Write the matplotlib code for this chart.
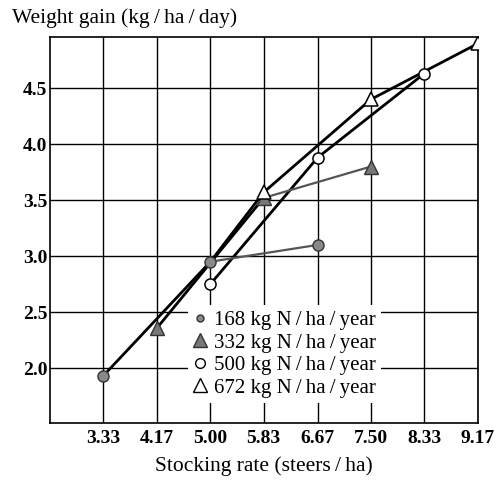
import matplotlib
matplotlib.use("Agg")
import matplotlib.pyplot as plt
from matplotlib.lines import Line2D

# Data
x_ticks = [3.33, 4.17, 5.00, 5.83, 6.67, 7.50, 8.33, 9.17]
x_ticklabels = ["3.33", "4.17", "5.00", "5.83", "6.67", "7.50", "8.33", "9.17"]
y_ticks = [2.0, 2.5, 3.0, 3.5, 4.0, 4.5]
y_ticklabels = ["2.0", "2.5", "3.0", "3.5", "4.0", "4.5"]

n168_x = [3.33, 5.00, 6.67]
n168_y = [1.93, 2.95, 3.10]
n332_x = [4.17, 5.83, 7.50]
n332_y = [2.36, 3.52, 3.80]
n500_x = [5.00, 6.67, 8.33]
n500_y = [2.75, 3.88, 4.63]
n672_x = [5.83, 7.50, 9.17]
n672_y = [3.57, 4.40, 4.90]

T = "\u2009"
labels = [f"168 kg N{T}/{T}ha{T}/{T}year", f"332 kg N{T}/{T}ha{T}/{T}year",
          f"500 kg N{T}/{T}ha{T}/{T}year", f"672 kg N{T}/{T}ha{T}/{T}year"]

plt.rcParams['font.family'] = ['Liberation Serif', 'DejaVu Serif']

fig = plt.figure(figsize=(5.0, 4.9), dpi=100)
ax = fig.add_axes([0.10, 0.137, 0.856, 0.788])

ax.set_xlim(2.5, 9.17)
ax.set_ylim(1.51, 4.96)

# grid
ax.set_xticks(x_ticks)
ax.set_xticklabels(x_ticklabels, fontsize=14, fontweight='bold')
ax.set_yticks(y_ticks)
ax.set_yticklabels(y_ticklabels, fontsize=14, fontweight='bold')
ax.tick_params(axis='x', length=0, pad=5)
ax.tick_params(axis='y', length=0, pad=2)
ax.grid(True, color='black', linewidth=1.0, zorder=0)
ax.set_axisbelow(True)
for s in ax.spines.values():
    s.set_linewidth(1.2)

thick = dict(color='black', linewidth=2.0, zorder=3, solid_capstyle='butt')
thin = dict(color='#555555', linewidth=1.6, zorder=3)

# thick envelope lines
ax.plot(n168_x[:2] + n672_x, n168_y[:2] + n672_y, **thick)
ax.plot(n332_x[:2], n332_y[:2], **thick)
ax.plot(n500_x, n500_y, **thick)
# thin grey continuations
ax.plot(n168_x[1:], n168_y[1:], **thin)
ax.plot(n332_x[1:], n332_y[1:], **thin)

# markers
ax.plot(n168_x, n168_y, linestyle='none', marker='o', markersize=8,
        markerfacecolor='#888888', markeredgecolor='#333333', markeredgewidth=1.0, zorder=4)
ax.plot(n332_x, n332_y, linestyle='none', marker='^', markersize=10,
        markerfacecolor='#777777', markeredgecolor='#333333', markeredgewidth=1.0, zorder=4)
ax.plot(n500_x, n500_y, linestyle='none', marker='o', markersize=8,
        markerfacecolor='white', markeredgecolor='black', markeredgewidth=1.1, zorder=4)
ax.plot(n672_x, n672_y, linestyle='none', marker='^', markersize=10.5,
        markerfacecolor='white', markeredgecolor='black', markeredgewidth=1.1, zorder=4)

handles = [
    Line2D([], [], linestyle='none', marker='o', markersize=5,
           markerfacecolor='#888888', markeredgecolor='#333333'),
    Line2D([], [], linestyle='none', marker='^', markersize=9.5,
           markerfacecolor='#777777', markeredgecolor='#333333'),
    Line2D([], [], linestyle='none', marker='o', markersize=7,
           markerfacecolor='white', markeredgecolor='black'),
    Line2D([], [], linestyle='none', marker='^', markersize=9.5,
           markerfacecolor='white', markeredgecolor='black'),
]
leg = ax.legend(handles, labels, loc='lower left',
                bbox_to_anchor=(0.322, 0.052), borderaxespad=0,
                frameon=True, facecolor='white', edgecolor='none', framealpha=1,
                fancybox=False, fontsize=15, handlelength=0.7,
                handletextpad=0.3, labelspacing=0.14, borderpad=0.25)
leg.set_zorder(5)

fig.text(0.024, 0.962, f"Weight gain (kg{T}/{T}ha{T}/{T}day)", fontsize=15.5, va='center', ha='left')
ax.set_xlabel(f"Stocking rate (steers{T}/{T}ha)", fontsize=15.5, labelpad=7)

fig.savefig("out.png", dpi=100, facecolor='white')
